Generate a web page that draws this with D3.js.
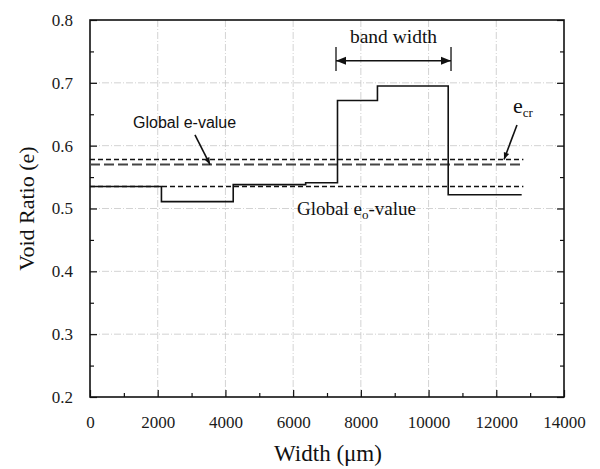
<!DOCTYPE html>
<html>
<head>
<meta charset="utf-8">
<script src="https://cdn.jsdelivr.net/npm/d3@7"></script>
<style>
  html, body { margin: 0; padding: 0; background: #fff; }
  svg { display: block; }
</style>
</head>
<body>
<svg id="chart" width="600" height="469"></svg>
<script>
// Local void ratio across the specimen width (step profile)
const segmentEdges = [0, 2110, 4230, 6370, 7310, 8490, 10580, 12750];
const voidRatio = [0.535, 0.511, 0.538, 0.541, 0.672, 0.695, 0.522];

// Reference levels
const eCritical = 0.578;
const eGlobal = 0.570;
const e0Global = 0.535;
const levelEnd = 12800;

// Axis ticks
const xTicks = [0, 2000, 4000, 6000, 8000, 10000, 12000, 14000];
const xMinor = [1000, 3000, 5000, 7000, 9000, 11000, 13000];
const yTicks = [0.2, 0.3, 0.4, 0.5, 0.6, 0.7, 0.8];
const yMinor = [0.25, 0.35, 0.45, 0.55, 0.65, 0.75];

// Band width extent
const bandStart = 7266, bandEnd = 10663;

const svg = d3.select("#chart");
const plotLeft = 90, plotRight = 564, plotTop = 20, plotBottom = 397;

const x = d3.scaleLinear().domain([0, 14000]).range([plotLeft, plotRight]);
const y = d3.scaleLinear().domain([0.2, 0.8]).range([plotBottom, plotTop]);

const serif = "'Liberation Serif', 'Times New Roman', serif";
const sans = "'Liberation Sans', Arial, sans-serif";

// Grid lines (dash-dot, faint)
const grid = svg.append("g").attr("stroke", "#c8c8c8").attr("stroke-width", 0.8)
  .attr("stroke-dasharray", "7,2,1,2");
grid.selectAll("line.gx").data(xTicks.slice(1, -1)).join("line")
  .attr("x1", d => x(d)).attr("x2", d => x(d)).attr("y1", plotTop).attr("y2", plotBottom);
grid.selectAll("line.gy").data(yTicks.slice(1, -1)).join("line")
  .attr("y1", d => y(d)).attr("y2", d => y(d)).attr("x1", plotLeft).attr("x2", plotRight);

// Axes with inward ticks
const xAxis = d3.axisBottom(x).tickValues(xTicks).tickSize(-7).tickPadding(19).tickFormat(d3.format("d"));
const gx = svg.append("g").attr("transform", `translate(0,${plotBottom})`).call(xAxis);
const yAxis = d3.axisLeft(y).tickValues(yTicks).tickSize(-7).tickPadding(17).tickFormat(d3.format(".1f"));
const gy = svg.append("g").attr("transform", `translate(${plotLeft},0)`).call(yAxis);
const gxm = svg.append("g").attr("transform", `translate(0,${plotBottom})`)
  .call(d3.axisBottom(x).tickValues(xMinor).tickSize(-4).tickFormat(""));
const gym = svg.append("g").attr("transform", `translate(${plotLeft},0)`)
  .call(d3.axisLeft(y).tickValues(yMinor).tickSize(-4).tickFormat(""));
const gyr = svg.append("g").attr("transform", `translate(${plotRight},0)`)
  .call(d3.axisRight(y).tickValues(yTicks).tickSize(-7).tickFormat(""));
const gyrm = svg.append("g").attr("transform", `translate(${plotRight},0)`)
  .call(d3.axisRight(y).tickValues(yMinor).tickSize(-4).tickFormat(""));

[gx, gy, gxm, gym, gyr, gyrm].forEach(g => {
  g.select(".domain").remove();
  g.selectAll(".tick line").attr("stroke", "#111").attr("stroke-width", 1.2);
  g.selectAll(".tick text").attr("fill", "#1a1a1a").attr("font-family", serif).attr("font-size", 17);
});
gx.selectAll(".tick text").attr("dy", "0.71em");

// Frame
svg.append("rect").attr("x", plotLeft).attr("y", plotTop)
  .attr("width", plotRight - plotLeft).attr("height", plotBottom - plotTop)
  .attr("fill", "none").attr("stroke", "#111").attr("stroke-width", 1.6);

// Reference level lines
const levels = [
  { v: eCritical, dash: "5,3", w: 1.3, c: "#111" },
  { v: eGlobal, dash: "10,4", w: 2, c: "#444" },
  { v: e0Global, dash: "5,3", w: 1.3, c: "#111" }
];
svg.append("g").selectAll("line").data(levels).join("line")
  .attr("x1", x(0)).attr("x2", x(levelEnd))
  .attr("y1", d => y(d.v)).attr("y2", d => y(d.v))
  .attr("stroke", d => d.c).attr("stroke-width", d => d.w)
  .attr("stroke-dasharray", d => d.dash);

// Step profile of void ratio
const stepPoints = voidRatio.map((v, i) => ({ x: segmentEdges[i], v }))
  .concat([{ x: segmentEdges[segmentEdges.length - 1], v: voidRatio[voidRatio.length - 1] }]);
const line = d3.line().x(d => x(d.x)).y(d => y(d.v)).curve(d3.curveStepAfter);
svg.append("path").datum(stepPoints).attr("d", line)
  .attr("fill", "none").attr("stroke", "#111").attr("stroke-width", 1.6);

// Arrow markers
const defs = svg.append("defs");
defs.append("marker").attr("id", "head").attr("viewBox", "0 0 10 10")
  .attr("refX", 10).attr("refY", 5).attr("markerWidth", 12).attr("markerHeight", 7)
  .attr("markerUnits", "userSpaceOnUse").attr("orient", "auto-start-reverse")
  .append("path").attr("d", "M0,1 L10,5 L0,9 Z").attr("fill", "#111");
defs.append("marker").attr("id", "headWide").attr("viewBox", "0 0 10 10")
  .attr("refX", 10).attr("refY", 5).attr("markerWidth", 20).attr("markerHeight", 10)
  .attr("markerUnits", "userSpaceOnUse").attr("orient", "auto-start-reverse")
  .append("path").attr("d", "M0,1 L10,5 L0,9 Z").attr("fill", "#111");

// Band width annotation
const bandY = 0.735;
svg.append("line").attr("x1", x(bandStart)).attr("x2", x(bandEnd))
  .attr("y1", y(bandY)).attr("y2", y(bandY))
  .attr("stroke", "#111").attr("stroke-width", 1.5)
  .attr("marker-start", "url(#headWide)").attr("marker-end", "url(#headWide)");
svg.append("g").selectAll("line").data([bandStart, bandEnd]).join("line")
  .attr("x1", d => x(d)).attr("x2", d => x(d))
  .attr("y1", y(0.757)).attr("y2", y(0.719))
  .attr("stroke", "#111").attr("stroke-width", 1.3);
svg.append("text").attr("x", x((bandStart + bandEnd) / 2)).attr("y", y(0.763))
  .attr("text-anchor", "middle").attr("font-family", serif).attr("font-size", 19.5)
  .attr("fill", "#111").text("band width");

// Global e-value label with arrow
svg.append("text").attr("x", x(1270)).attr("y", y(0.628))
  .attr("font-family", sans).attr("font-size", 16).attr("fill", "#111")
  .text("Global e-value");
svg.append("line").attr("x1", x(3100)).attr("y1", y(0.617))
  .attr("x2", x(3545)).attr("y2", y(eGlobal))
  .attr("stroke", "#111").attr("stroke-width", 1.6).attr("marker-end", "url(#head)");

// e_cr label with arrow
const ecr = svg.append("text").attr("x", x(12494)).attr("y", y(0.652))
  .attr("font-family", serif).attr("font-size", 22).attr("fill", "#111");
ecr.append("tspan").text("e");
ecr.append("tspan").attr("font-size", 13).attr("dy", 4).text("cr");
svg.append("line").attr("x1", x(12611)).attr("y1", y(0.633))
  .attr("x2", x(12229)).attr("y2", y(eCritical))
  .attr("stroke", "#111").attr("stroke-width", 1.6).attr("marker-end", "url(#head)");

// Global e0 label
const e0 = svg.append("text").attr("x", x(6114)).attr("y", y(0.490))
  .attr("font-family", serif).attr("font-size", 19).attr("fill", "#111");
e0.append("tspan").text("Global e");
e0.append("tspan").attr("font-size", 13).attr("dy", 4).text("o");
e0.append("tspan").attr("dy", -4).text("-value");

// Axis titles
svg.append("text").attr("x", 328).attr("y", 461)
  .attr("text-anchor", "middle").attr("font-family", serif).attr("font-size", 23)
  .attr("fill", "#111").text("Width (\u03bcm)");
svg.append("text").attr("transform", `translate(34,${(plotTop + plotBottom) / 2}) rotate(-90)`)
  .attr("text-anchor", "middle").attr("font-family", serif).attr("font-size", 22)
  .attr("fill", "#111").text("Void Ratio (e)");
</script>
</body>
</html>
